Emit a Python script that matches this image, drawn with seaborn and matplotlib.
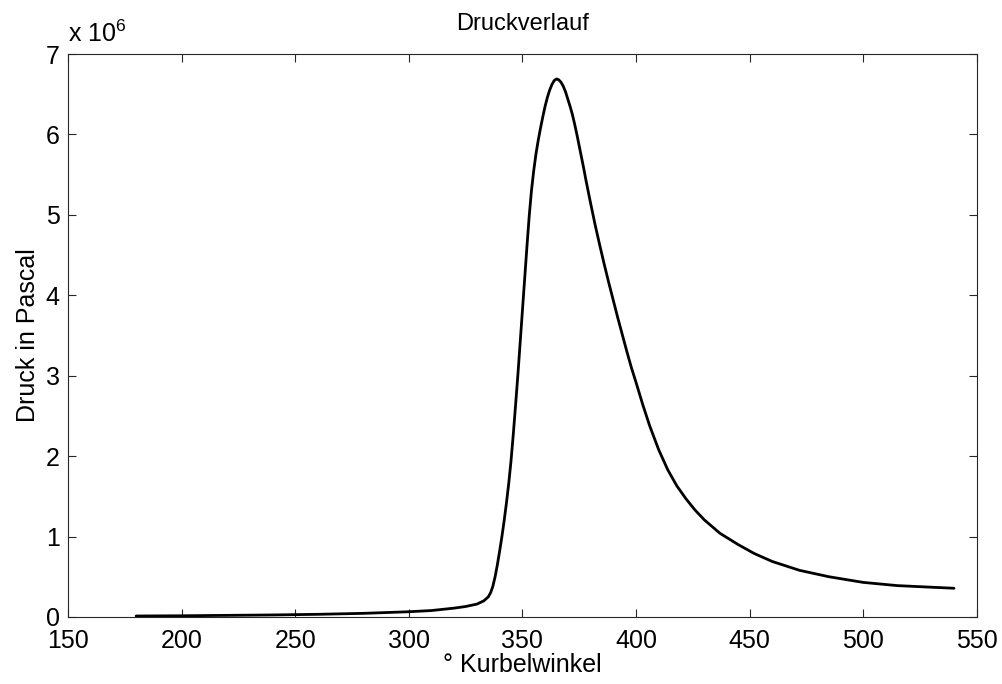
import matplotlib
matplotlib.use("Agg")
import matplotlib.pyplot as plt
import matplotlib.ticker as mticker
import seaborn as sns
import pandas as pd

# crank angle (degrees) and cylinder pressure (MPa)
kurbelwinkel = [180, 200, 220, 240, 260, 280, 300, 310, 320, 325, 330, 333, 335, 336,
                337, 338, 339, 340, 341, 342, 343, 344, 345, 346, 347, 348, 349, 350,
                351, 352, 353, 354, 355, 356, 357, 358, 359, 360, 361, 362, 363, 364,
                365, 366, 367, 368, 369, 370, 371, 372, 373, 374, 375, 376, 377, 378,
                379, 380, 382, 384, 386, 388, 390, 392, 394, 396, 398, 400, 403, 406,
                410, 414, 418, 422, 426, 430, 437, 445, 452, 460, 472, 485, 500, 515,
                530, 540]
druck_mpa = [0.012, 0.015, 0.02, 0.025, 0.033, 0.045, 0.065, 0.08, 0.11, 0.13, 0.16, 0.2,
             0.25, 0.3, 0.38, 0.5, 0.65, 0.82, 1.0, 1.2, 1.42, 1.66, 1.94, 2.27, 2.63,
             3.0, 3.4, 3.8, 4.2, 4.6, 4.98, 5.3, 5.55, 5.76, 5.93, 6.08, 6.22, 6.35, 6.46,
             6.55, 6.62, 6.67, 6.69, 6.68, 6.65, 6.6, 6.53, 6.44, 6.35, 6.25, 6.13, 6.0,
             5.86, 5.72, 5.58, 5.43, 5.29, 5.15, 4.88, 4.63, 4.39, 4.16, 3.94, 3.72, 3.51,
             3.3, 3.1, 2.92, 2.64, 2.38, 2.08, 1.83, 1.63, 1.47, 1.33, 1.21, 1.04, 0.9,
             0.79, 0.69, 0.58, 0.5, 0.43, 0.39, 0.37, 0.357]

data = pd.DataFrame({"Kurbelwinkel": kurbelwinkel,
                     "Druck": [p * 1e6 for p in druck_mpa]})

sns.set_style("ticks")
plt.rcParams['font.family'] = ['Liberation Sans', 'DejaVu Sans']
plt.rcParams['mathtext.fontset'] = 'custom'
plt.rcParams['mathtext.rm'] = 'Liberation Sans'
plt.rcParams['mathtext.it'] = 'Liberation Sans'
plt.rcParams['text.color'] = 'black'
plt.rcParams['axes.labelcolor'] = 'black'

fig = plt.figure(figsize=(10.03, 6.84), dpi=100)
ax = fig.add_axes([0.0678, 0.098, 0.906, 0.823])

sns.lineplot(data=data, x="Kurbelwinkel", y="Druck", color="black", linewidth=2.0, ax=ax)

ax.set_xlim(150, 550)
ax.set_ylim(0, 7e6)
ax.set_xticks(range(150, 551, 50))
ax.set_yticks([i * 1e6 for i in range(8)])
ax.yaxis.set_major_formatter(mticker.FuncFormatter(lambda v, _: f"{v / 1e6:g}"))

ax.tick_params(direction="in", length=6, width=0.8, top=True, right=True,
               labelsize=18, colors="#262626", labelcolor="black")
ax.tick_params(axis="x", pad=9)
ax.tick_params(axis="y", pad=6)
for s in ax.spines.values():
    s.set_visible(True)
    s.set_color("#262626")
    s.set_linewidth(0.8)

ax.set_xlabel("° Kurbelwinkel", fontsize=18, labelpad=0)
ax.set_ylabel("Druck in Pascal", fontsize=18, labelpad=4)
ax.set_title("Druckverlauf", fontsize=17, pad=17)
ax.text(0.0, 1.012, r"x 10$^{6}$", transform=ax.transAxes, ha="left", va="bottom",
        fontsize=18)

fig.savefig("out.png", dpi=100, facecolor="white")
